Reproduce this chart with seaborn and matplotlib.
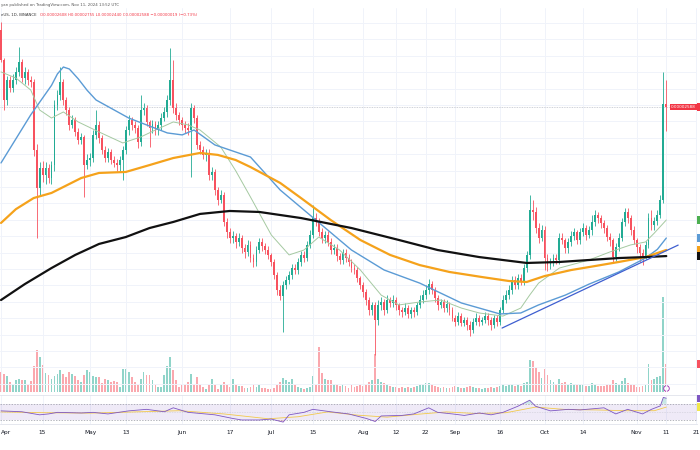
import numpy as np
import pandas as pd
import seaborn as sns
import matplotlib.pyplot as plt
import matplotlib.transforms as mtransforms

# prices are in units of 1e-6 USDT, volume in trillions
start_date = "2024-04-01"
first_open = 30.58

close_apr = [28.75, 26.31, 27.53, 27.04, 27.53, 28.02, 28.63, 27.65, 28.02, 27.53,
             27.41, 23.26, 20.94, 22.16, 21.73, 22.16, 21.55, 22.34, 26.00, 26.61,
             27.41, 26.31, 25.70, 24.79, 25.09, 24.36, 23.87, 24.05, 22.34, 22.65]
high_apr = [31.07, 28.9, 27.8, 27.8, 27.9, 28.3, 29.54, 28.8, 28.3, 28.2,
            27.8, 27.6, 23.6, 22.5, 22.6, 22.5, 22.4, 22.6, 26.3, 26.9,
            28.32, 27.6, 26.5, 25.9, 25.4, 25.3, 24.6, 24.3, 24.2, 23.0]
low_apr = [28.63, 25.70, 26.0, 26.8, 26.8, 27.3, 27.8, 27.4, 27.3, 27.2,
           27.1, 22.9, 17.89, 20.5, 21.3, 21.2, 21.25, 21.2, 22.0, 25.7,
           26.3, 26.0, 25.4, 24.5, 24.6, 24.1, 23.6, 23.6, 20.39, 22.1]

close_may = [22.77, 24.18, 24.79, 23.99, 23.26, 22.77, 23.14, 22.65, 22.47, 22.34,
             22.65, 23.26, 24.48, 25.09, 24.79, 24.60, 23.75, 25.70, 25.82, 24.97,
             24.60, 24.85, 24.48, 24.79, 25.21, 25.58, 26.31, 27.53, 25.82, 25.40, 25.09]
high_may = [23.1, 24.5, 25.70, 25.0, 24.2, 23.5, 23.4, 23.3, 22.9, 22.7,
            22.9, 23.5, 24.7, 25.4, 25.3, 25.0, 24.8, 26.61, 26.1, 26.0,
            25.1, 25.1, 25.0, 25.0, 25.5, 25.9, 26.6, 29.48, 28.75, 26.1, 25.6]
low_may = [22.3, 22.5, 23.9, 23.7, 23.0, 22.5, 22.5, 22.4, 22.2, 22.0,
           22.0, 21.43, 23.0, 24.2, 24.5, 24.3, 23.4, 23.5, 25.4, 24.7,
           23.44, 24.3, 24.2, 24.2, 24.5, 25.0, 25.3, 26.0, 25.5, 25.1, 24.8]

close_jun = [24.79, 24.60, 24.48, 25.82, 25.21, 23.57, 23.26, 22.96, 23.08, 21.73,
             21.92, 20.82, 20.21, 20.52, 18.87, 18.26, 17.89, 18.01, 17.65, 17.89,
             17.28, 17.04, 17.47, 16.67, 16.43, 17.16, 17.65, 17.40, 17.16, 16.86]
high_jun = [25.3, 25.0, 24.9, 26.1, 26.0, 25.4, 23.8, 23.5, 23.3, 23.3,
            22.2, 22.1, 21.0, 20.8, 20.7, 19.1, 18.5, 18.3, 18.2, 18.2,
            18.1, 17.5, 17.8, 17.7, 16.9, 17.4, 17.9, 17.9, 17.6, 17.4]
low_jun = [24.5, 24.3, 24.2, 21.61, 24.9, 23.3, 23.0, 22.7, 22.6, 21.4,
           21.4, 20.5, 19.9, 20.0, 18.6, 17.9, 17.6, 17.6, 17.3, 17.4,
           17.0, 16.7, 16.8, 16.4, 16.1, 16.2, 17.0, 17.1, 16.9, 16.6]

close_jul = [16.43, 15.63, 14.72, 14.35, 15.02, 15.33, 15.63, 16.06, 15.94, 16.43,
             16.86, 16.67, 17.47, 18.08, 19.11, 18.87, 18.26, 17.89, 18.08, 17.65,
             17.16, 17.28, 16.79, 16.55, 16.98, 16.67, 16.43, 16.06, 15.94, 15.45, 15.02]
high_jul = [17.0, 16.6, 15.8, 15.0, 15.3, 15.6, 15.9, 16.3, 16.3, 16.7,
            17.1, 17.1, 17.7, 18.4, 19.90, 19.4, 19.1, 18.5, 18.3, 18.3,
            17.9, 17.5, 17.5, 17.0, 17.2, 17.2, 16.9, 16.6, 16.3, 16.1, 15.6]
low_jul = [16.2, 15.4, 14.4, 14.1, 12.16, 14.8, 15.1, 15.4, 15.7, 15.7,
           16.2, 16.4, 16.5, 17.3, 17.9, 18.6, 18.0, 17.6, 17.6, 17.4,
           16.9, 16.9, 16.5, 16.3, 16.3, 16.4, 16.2, 15.8, 15.7, 15.2, 14.8]

close_aug = [14.60, 14.11, 13.50, 13.81, 12.89, 13.81, 13.99, 13.50, 14.11, 13.93,
             14.11, 13.81, 13.50, 13.38, 13.62, 13.25, 13.50, 13.38, 13.81, 14.11,
             14.41, 14.72, 15.09, 14.72, 14.23, 13.81, 13.99, 13.62, 13.87, 13.50, 13.01]
high_aug = [15.2, 14.8, 14.3, 14.0, 14.0, 14.1, 14.3, 14.2, 14.4, 14.3,
            14.4, 14.3, 13.9, 13.7, 13.9, 13.8, 13.7, 13.7, 14.0, 14.4,
            14.7, 15.0, 15.4, 15.3, 14.9, 14.4, 14.2, 14.2, 14.1, 14.0, 13.7]
low_aug = [14.3, 13.8, 13.2, 13.2, 10.75, 12.6, 13.5, 13.2, 13.3, 13.7,
           13.7, 13.5, 13.2, 13.1, 13.2, 13.0, 13.0, 13.1, 13.2, 13.6,
           13.9, 14.2, 14.5, 14.5, 14.0, 13.5, 13.6, 13.4, 13.4, 13.2, 12.8]

close_sep = [12.77, 13.13, 12.71, 12.89, 12.59, 12.28, 12.77, 13.01, 12.77, 12.89,
             13.13, 12.89, 12.59, 13.01, 12.77, 13.50, 14.11, 14.41, 14.72, 15.33,
             15.02, 15.45, 15.21, 16.06, 16.86, 19.60, 19.48, 18.50, 17.89, 18.38]
high_sep = [13.2, 13.4, 13.3, 13.1, 13.1, 12.8, 13.0, 13.3, 13.2, 13.1,
            13.4, 13.3, 13.1, 13.2, 13.2, 13.7, 14.4, 14.7, 15.0, 15.6,
            15.6, 15.7, 15.7, 16.3, 17.1, 20.52, 20.2, 19.8, 18.8, 18.7]
low_sep = [12.5, 12.6, 12.5, 12.5, 12.3, 11.91, 12.1, 12.6, 12.5, 12.6,
           12.7, 12.6, 12.3, 12.4, 12.5, 12.6, 13.3, 13.9, 14.2, 14.5,
           14.8, 14.8, 15.0, 15.0, 15.8, 16.6, 19.0, 18.2, 17.6, 17.7]

close_oct = [16.67, 16.24, 16.43, 16.67, 16.55, 17.89, 17.77, 17.28, 17.65, 18.01,
             18.26, 17.77, 18.26, 18.50, 18.08, 18.38, 18.87, 19.30, 19.11, 18.81,
             18.50, 17.95, 17.77, 16.73, 17.34, 17.89, 18.87, 19.48, 19.11, 18.38, 17.77]
high_oct = [18.6, 16.9, 16.7, 16.9, 16.9, 18.2, 18.2, 17.9, 17.9, 18.3,
            18.5, 18.4, 18.5, 18.8, 18.7, 18.6, 19.30, 19.6, 19.5, 19.3,
            19.0, 18.7, 18.2, 17.9, 17.6, 18.2, 19.1, 19.72, 19.7, 19.3, 18.6]
low_oct = [15.94, 15.9, 16.0, 16.2, 16.3, 16.3, 17.5, 17.0, 17.0, 17.4,
           17.8, 17.5, 17.5, 18.0, 17.8, 17.9, 18.1, 18.6, 18.8, 18.5,
           18.2, 17.7, 17.4, 16.43, 16.5, 17.1, 17.7, 18.6, 18.8, 18.1, 17.5]

close_nov = [17.34, 16.98, 16.79, 17.47, 19.11, 18.69, 18.93, 19.30, 20.21, 26.08, 25.88]
high_nov = [17.9, 17.5, 17.2, 17.7, 19.4, 19.60, 19.2, 19.6, 20.5, 28.02, 27.55]
low_nov = [17.0, 16.43, 16.24, 16.6, 17.3, 18.4, 18.4, 18.7, 19.1, 20.0, 24.40]

vol_apr = [2.0, 1.8, 1.6, 1.0, 0.8, 1.2, 1.3, 1.2, 1.2, 0.8, 1.1, 2.6, 4.2, 3.5, 2.7,
           1.9, 1.7, 1.3, 1.6, 1.8, 2.2, 1.8, 1.5, 2.0, 1.8, 1.6, 1.2, 1.0, 1.7, 2.2]
vol_may = [2.0, 1.6, 1.5, 1.5, 0.9, 1.3, 1.2, 1.0, 1.1, 1.0, 0.5, 2.3, 2.3, 2.0, 1.5,
           1.0, 0.7, 1.3, 2.0, 1.7, 1.7, 1.2, 0.7, 0.5, 0.5, 1.7, 2.6, 3.5, 2.2, 1.2, 0.5]
vol_jun = [0.7, 0.8, 1.0, 1.8, 0.7, 1.5, 0.8, 0.5, 0.3, 0.7, 1.3, 0.7, 0.3, 0.7, 1.0,
           0.7, 0.5, 1.3, 0.7, 0.6, 0.6, 0.4, 0.4, 0.5, 0.8, 0.5, 0.7, 0.4, 0.4, 0.3]
vol_jul = [0.3, 0.4, 0.7, 1.0, 1.4, 1.2, 1.0, 1.3, 0.7, 0.5, 0.4, 0.3, 0.4, 0.5, 1.6,
           0.7, 4.5, 1.9, 1.3, 1.2, 1.2, 0.8, 0.8, 0.6, 0.8, 0.6, 0.4, 0.7, 0.5, 0.6, 0.7]
vol_aug = [0.6, 0.8, 1.0, 1.2, 3.8, 1.3, 1.0, 0.9, 0.8, 0.6, 0.5, 0.5, 0.4, 0.5, 0.4,
           0.5, 0.4, 0.5, 0.6, 0.7, 0.8, 0.9, 0.9, 0.8, 0.6, 0.5, 0.4, 0.5, 0.4, 0.4, 0.5]
vol_sep = [0.6, 0.5, 0.4, 0.4, 0.5, 0.6, 0.5, 0.4, 0.4, 0.3, 0.4, 0.4, 0.5, 0.4, 0.5,
           0.6, 0.8, 0.6, 0.7, 0.8, 0.6, 0.7, 0.6, 0.9, 1.0, 3.2, 3.1, 2.5, 2.0, 1.4]
vol_oct = [2.3, 1.7, 1.2, 1.0, 0.8, 1.3, 0.9, 1.0, 0.8, 0.9, 0.8, 0.7, 0.7, 0.8, 0.6,
           0.6, 0.9, 0.8, 0.6, 0.6, 0.6, 0.8, 0.7, 1.2, 0.9, 0.8, 1.1, 1.4, 0.9, 0.8, 0.7]
vol_nov = [0.5, 0.5, 0.6, 0.7, 2.8, 1.2, 1.3, 1.5, 1.6, 9.5, 2.8]

# moving averages (day index from Apr 1)
ma20_day = [0, 5, 10, 13, 17, 21, 26, 33, 41, 47, 52, 58, 63, 67, 74, 79, 84, 91, 97, 102,
            107, 114, 121, 128, 134, 141, 148, 155, 161, 169, 175, 178, 181, 188, 198, 205,
            212, 217, 220, 224]
ma20_val = [28.02, 27.65, 26.92, 25.70, 25.21, 25.58, 24.97, 24.36, 23.69, 24.05, 24.48,
            24.97, 24.79, 24.48, 23.44, 22.00, 20.39, 18.08, 16.86, 17.16, 17.95, 17.16,
            15.94, 14.41, 13.81, 13.99, 14.11, 13.62, 13.32, 13.13, 13.62, 14.41, 15.14,
            16.06, 16.55, 17.04, 17.47, 17.65, 18.20, 18.99]
ma50_day = [0, 10, 17, 19, 21, 23, 26, 29, 32, 43, 56, 61, 65, 72, 84, 94, 106, 118, 129,
            141, 155, 168, 175, 181, 190, 198, 208, 217, 221, 224]
ma50_val = [22.47, 25.40, 27.20, 27.90, 28.32, 28.20, 27.60, 26.90, 26.31, 25.21, 24.30,
            24.18, 24.48, 23.57, 22.83, 20.82, 18.99, 17.16, 15.94, 15.14, 13.93, 13.26,
            13.32, 13.81, 14.41, 15.08, 15.82, 16.67, 17.20, 17.89]
ma100_day = [0, 5, 11, 17, 27, 33, 42, 50, 58, 67, 73, 79, 84, 94, 101, 111, 121, 131, 141,
             151, 162, 171, 177, 183, 192, 198, 208, 217, 224]
ma100_val = [18.81, 19.65, 20.33, 20.64, 21.55, 21.86, 21.92, 22.34, 22.77, 23.08, 22.96,
             22.65, 22.22, 21.25, 20.33, 18.99, 17.77, 16.86, 16.24, 15.82, 15.51, 15.27,
             15.21, 15.57, 15.94, 16.12, 16.43, 16.73, 17.16]
ma200_day = [0, 8, 17, 25, 33, 42, 50, 58, 67, 77, 87, 101, 118, 134, 147, 161, 177, 188,
             198, 208, 217, 224]
ma200_val = [14.11, 15.08, 16.06, 16.86, 17.53, 17.95, 18.50, 18.87, 19.36, 19.54, 19.48,
             19.11, 18.50, 17.77, 17.16, 16.73, 16.37, 16.43, 16.55, 16.67, 16.73, 16.79]
trend_day = [168.7, 228.0]
trend_val = [12.40, 17.46]

rsi_day = [0, 7, 13, 16, 19, 27, 31, 36, 43, 49, 55, 58, 63, 72, 78, 81, 87, 91, 95, 97,
           102, 105, 111, 117, 123, 126, 128, 135, 139, 144, 147, 152, 156, 161, 165, 169,
           174, 178, 180, 185, 191, 195, 203, 207, 211, 216, 219, 222, 223, 224]
rsi_val = [52.6, 50.4, 42.8, 45.0, 48.9, 47.4, 48.9, 45.0, 52.6, 56.4, 50.4, 60.2, 48.9,
           42.8, 33.8, 30.0, 30.0, 32.3, 24.7, 42.8, 48.9, 56.4, 50.4, 45.0, 33.8, 26.2,
           40.0, 41.3, 45.0, 60.2, 48.9, 45.0, 41.3, 47.4, 42.8, 48.9, 64.0, 79.0, 64.0,
           52.6, 56.4, 55.0, 60.2, 45.0, 56.4, 45.0, 56.4, 65.0, 86.0, 84.0]
rsima_day = [0, 15, 30, 45, 60, 75, 90, 100, 110, 120, 130, 140, 150, 160, 170, 180, 190,
             200, 210, 220, 224]
rsima_val = [50, 48, 47, 50, 53, 45, 33, 38, 50, 42, 37, 44, 50, 46, 48, 62, 56, 55, 53, 53, 62]

tick_dates = ["2024-04-01", "2024-04-15", "2024-05-01", "2024-05-13", "2024-06-01",
              "2024-06-17", "2024-07-01", "2024-07-15", "2024-08-01", "2024-08-12",
              "2024-08-22", "2024-09-01", "2024-09-16", "2024-10-01", "2024-10-14",
              "2024-11-01", "2024-11-11", "2024-11-21"]
tick_labels = ["Apr", "15", "May", "13", "Jun", "17", "Jul", "15", "Aug", "12", "22",
               "Sep", "16", "Oct", "14", "Nov", "11", "21"]

# assemble
close = close_apr + close_may + close_jun + close_jul + close_aug + close_sep + close_oct + close_nov
high = high_apr + high_may + high_jun + high_jul + high_aug + high_sep + high_oct + high_nov
low = low_apr + low_may + low_jun + low_jul + low_aug + low_sep + low_oct + low_nov
volume = vol_apr + vol_may + vol_jun + vol_jul + vol_aug + vol_sep + vol_oct + vol_nov
assert len(close) == len(high) == len(low) == len(volume) == 225

opens = np.array([first_open] + close[:-1])
close = np.array(close)
days = np.arange(len(close))
up = close >= opens
tick_days = (pd.to_datetime(tick_dates) - pd.Timestamp(start_date)).days

UP, DOWN = "#22ab94", "#f7525f"
candle_colors = np.where(up, UP, DOWN)

sns.set_theme(style="white")
plt.rcParams["font.family"] = ["DejaVu Sans"]

fig = plt.figure(figsize=(7, 4.5), dpi=100)
ax = fig.add_axes([0, 58 / 450, 697 / 700, 384 / 450])
axr = fig.add_axes([0, 26 / 450, 697 / 700, 29 / 450], sharex=ax)
axv = ax.twinx()
ax.set_zorder(axv.get_zorder() + 1)
ax.patch.set_visible(False)

# grid
for t in tick_days:
    ax.axvline(t, color="#f0f3fa", lw=0.7, zorder=0)
    axr.axvline(t, color="#f0f3fa", lw=0.7, zorder=0)
for p in np.arange(9, 32, 1.0):
    ax.axhline(p, color="#f0f3fa", lw=0.7, zorder=0)

# volume
axv.bar(days, volume, width=0.62, color=candle_colors, alpha=0.5, lw=0)
axv.set_ylim(0, 38.4)
axv.plot(days[-1], 0.45, marker="o", ms=4, mfc="white", mec="#9c27b0", mew=0.6)

# candles
body_bottom = np.minimum(opens, close)
body_height = np.maximum(np.abs(close - opens), 0.04)
ax.vlines(days, low, high, colors=candle_colors, lw=0.6, zorder=3)
ax.bar(days, body_height, bottom=body_bottom, width=0.62, color=candle_colors, lw=0, zorder=4)

# moving averages and trendline
sns.lineplot(x=ma20_day, y=ma20_val, ax=ax, color="#a5c9a1", lw=0.7, zorder=5)
sns.lineplot(x=ma50_day, y=ma50_val, ax=ax, color="#5b9bd5", lw=1.0, zorder=5)
sns.lineplot(x=ma100_day, y=ma100_val, ax=ax, color="#f5a21b", lw=1.6, zorder=5)
sns.lineplot(x=ma200_day, y=ma200_val, ax=ax, color="#111111", lw=1.6, zorder=5)
sns.lineplot(x=trend_day, y=trend_val, ax=ax, color="#3f5fd0", lw=0.9, zorder=6)

# last price line and labels
last = close[-1]
ax.axhline(last, color="#c0c3cb", lw=0.6, ls=(0, (1, 1)), zorder=2)
blend = mtransforms.blended_transform_factory(ax.transAxes, ax.transData)
ax.text(0.9986, last, "0.00002588", transform=blend, ha="right", va="center",
        fontsize=3.0, color="white", zorder=8,
        bbox=dict(boxstyle="square,pad=0.35", fc="#f23645", ec="none"))
for val, col in [(last, "#f23645"), (ma20_val[-1], "#4caf50"), (ma50_val[-1], "#5b9bd5"),
                 (ma100_val[-1], "#f5a21b"), (ma200_val[-1], "#111111")]:
    ax.text(1.002, val, "  ", transform=blend, fontsize=4, va="center", ha="left",
            clip_on=False, bbox=dict(boxstyle="square,pad=0.3", fc=col, ec="none"))
blend_v = mtransforms.blended_transform_factory(axv.transAxes, axv.transData)
axv.text(1.002, volume[-1], "  ", transform=blend_v, fontsize=4, va="center", ha="left",
         clip_on=False, bbox=dict(boxstyle="square,pad=0.3", fc="#f7525f", ec="none"))

ax.set_xlim(-0.34, 234.34)
ax.set_ylim(8.50, 31.92)
for a in (ax, axv):
    a.tick_params(left=False, right=False, bottom=False, labelleft=False,
                  labelright=False, labelbottom=False)
    a.set_ylabel("")
    for s in a.spines.values():
        s.set_visible(False)

# RSI pane
rsi_arr = np.array(rsi_val)
axr.axhspan(30, 70, color="#7e57c2", alpha=0.12, lw=0)
axr.axhline(70, color="#9598a1", lw=0.5, ls=(0, (2, 2)))
axr.axhline(30, color="#9598a1", lw=0.5, ls=(0, (2, 2)))
axr.axhline(50, color="#b2b5be", lw=0.4, ls=(0, (1, 2)))
axr.fill_between(rsi_day, 70, rsi_arr, where=rsi_arr > 70, interpolate=True,
                 color="#26a69a", alpha=0.25, lw=0)
axr.fill_between(rsi_day, 30, rsi_arr, where=rsi_arr < 30, interpolate=True,
                 color="#f23645", alpha=0.2, lw=0)
sns.lineplot(x=rsima_day, y=rsima_val, ax=axr, color="#f2c94c", lw=0.6)
sns.lineplot(x=rsi_day, y=rsi_val, ax=axr, color="#7e57c2", lw=0.6)
axr.set_ylim(20, 92)
blend_r = mtransforms.blended_transform_factory(axr.transAxes, axr.transData)
for val, col in [(rsi_val[-1], "#7e57c2"), (rsima_val[-1], "#f2e84c")]:
    axr.text(1.002, val, "  ", transform=blend_r, fontsize=3.5, va="center", ha="left",
             clip_on=False, bbox=dict(boxstyle="square,pad=0.25", fc=col, ec="none"))
axr.set_xticks(tick_days, tick_labels)
axr.tick_params(axis="x", length=0, pad=4.5, labelsize=4.2, colors="#131722")
axr.get_xticklabels()[0].set_ha("left")
axr.tick_params(axis="y", left=False, labelleft=False)
axr.set_ylabel("")
for name, s in axr.spines.items():
    s.set_visible(name in ("top", "bottom"))
    s.set_color("#e0e3eb")
    s.set_linewidth(0.6)

# header
fig.text(0.002, 1 - 5 / 450, "yan published on TradingView.com, Nov 11, 2024 13:52 UTC",
         fontsize=2.8, color="#555555", va="center")
fig.text(0.002, 1 - 15 / 450, "eUS, 1D, BINANCE", fontsize=2.8, color="#333333", va="center")
fig.text(40 / 700, 1 - 15 / 450,
         "O0.00002608 H0.00002755 L0.00002440 C0.00002588 \u22120.00000019 (\u22120.73%)",
         fontsize=2.8, color="#f23645", va="center")

fig.savefig("out.png", dpi=100, facecolor="white")
